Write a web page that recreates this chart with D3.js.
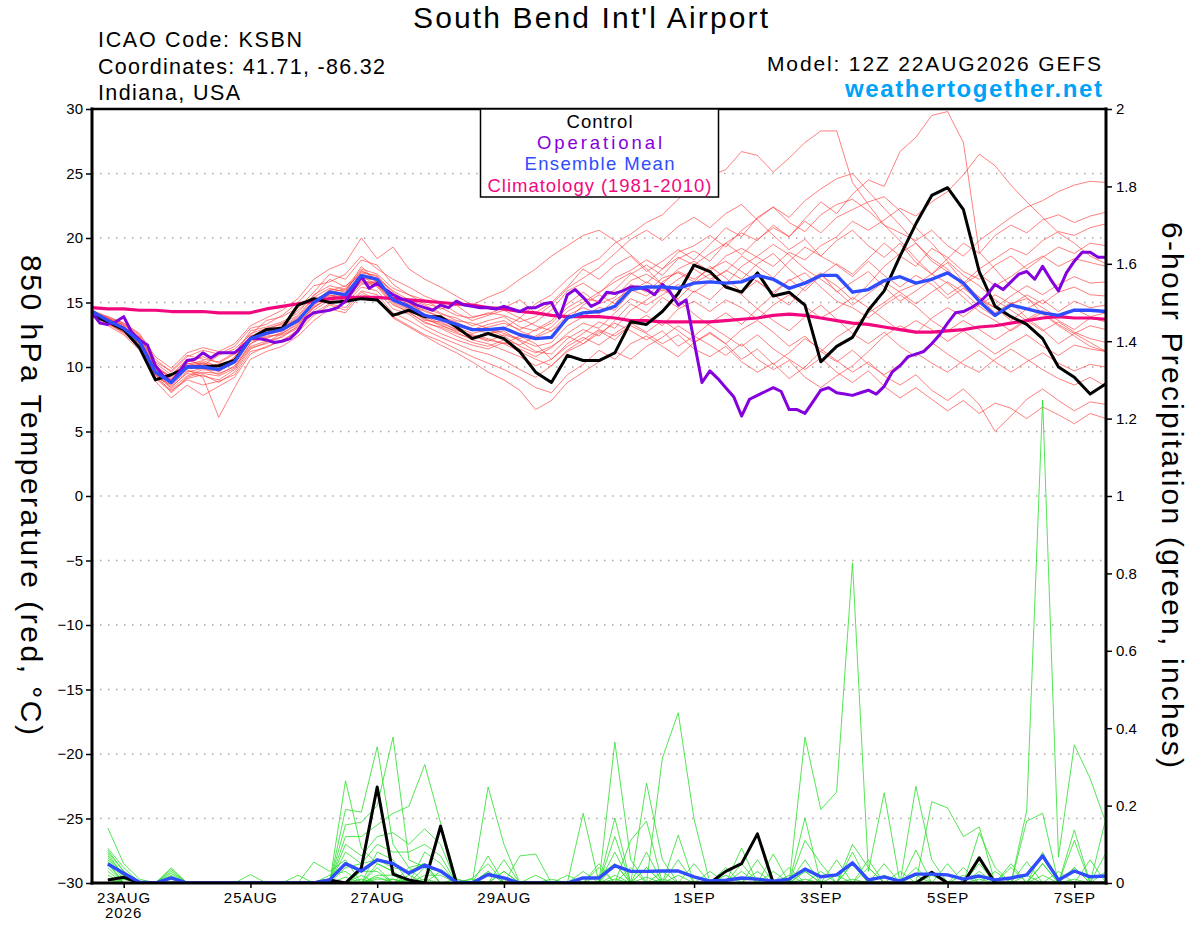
<!DOCTYPE html>
<html>
<head>
<meta charset="utf-8">
<script src="https://cdn.jsdelivr.net/npm/d3@7"></script>
<style>
  body { margin: 0; background: #fff; }
  svg { display: block; font-family: "Liberation Sans", Arial, Helvetica, sans-serif; }
</style>
</head>
<body>
<svg id="chart" width="1200" height="927"></svg>
<script>
(function () {
    'use strict';

    // run start (12Z 22AUG2026) and time steps
    const runStartUtc = Date.UTC(2026, 7, 22, 12);
    const stepHours = 6;      // ensemble, control, mean, climatology, precip
    const opStepHours = 3;    // operational run is 3-hourly

    const tickDays = [[2026, 7, 23], [2026, 7, 25], [2026, 7, 27], [2026, 7, 29],
                      [2026, 8, 1], [2026, 8, 3], [2026, 8, 5], [2026, 8, 7]];
    const tickLabels = ['23AUG', '25AUG', '27AUG', '29AUG', '1SEP', '3SEP', '5SEP', '7SEP'];
    const tempTicks = [-30, -25, -20, -15, -10, -5, 0, 5, 10, 15, 20, 25, 30];
    const precipTicks = [0, 0.2, 0.4, 0.6, 0.8, 1, 1.2, 1.4, 1.6, 1.8, 2];

    // 850 hPa temperature, 6-hourly from 12Z 22AUG
    const controlTemp = [14.0, 13.5, 12.9, 11.5, 9.0, 9.4, 10.0, 10.0, 10.1, 10.5, 12.2, 12.9, 13.0,
        14.8, 15.3, 15.0, 15.1, 15.3, 15.2, 14.0, 14.4, 13.9, 13.9, 13.1, 12.2, 12.6,
        12.2, 11.2, 9.6, 8.8, 10.9, 10.5, 10.5, 11.1, 13.5, 13.3, 14.3, 15.7, 17.9,
        17.4, 16.2, 15.8, 17.3, 15.5, 15.8, 14.8, 10.4, 11.6, 12.3, 14.4, 15.9, 18.6,
        21.1, 23.3, 23.9, 22.2, 17.4, 14.7, 13.9, 13.3, 12.2, 10.0, 9.2, 7.9, 8.7];

    const meanTemp = [14.3, 13.6, 13.0, 12.0, 9.6, 8.8, 10.0, 10.0, 9.8, 10.4, 12.2, 12.6, 12.9,
        13.6, 15.0, 15.8, 15.6, 17.1, 16.8, 15.2, 14.7, 14.0, 13.7, 13.3, 12.9, 12.9,
        13.0, 12.5, 12.2, 12.3, 13.8, 14.2, 14.3, 14.7, 16.0, 16.2, 16.2, 16.1, 16.5,
        16.6, 16.5, 16.6, 17.1, 16.8, 16.1, 16.5, 17.1, 17.1, 15.8, 16.0, 16.7, 17.0,
        16.5, 16.8, 17.3, 16.5, 15.1, 14.0, 14.8, 14.5, 14.2, 14.0, 14.4, 14.4, 14.3];

    const climoTemp = [14.6, 14.5, 14.5, 14.4, 14.4, 14.3, 14.3, 14.3, 14.2, 14.2, 14.2, 14.5, 14.7,
        14.9, 15.1, 15.3, 15.4, 15.4, 15.4, 15.3, 15.2, 15.1, 15.0, 14.9, 14.8, 14.6,
        14.5, 14.3, 14.2, 14.0, 13.9, 13.9, 13.9, 13.8, 13.6, 13.6, 13.5, 13.5, 13.5,
        13.5, 13.6, 13.7, 13.8, 14.0, 14.1, 14.0, 13.8, 13.6, 13.4, 13.3, 13.1, 12.9,
        12.7, 12.7, 12.8, 12.9, 13.1, 13.2, 13.4, 13.6, 13.8, 13.9, 13.8, 13.8, 13.7];

    // operational, 3-hourly
    const operationalTemp = [14.2, 13.4, 13.3, 13.5, 13.9, 12.7, 12.1, 11.7, 10.1, 9.3, 8.8, 9.6, 10.5,
        10.6, 11.1, 10.7, 11.1, 11.1, 11.1, 11.6, 12.2, 12.2, 12.1, 11.9, 12.0, 12.2,
        12.8, 13.8, 14.2, 14.3, 14.4, 14.6, 15.1, 16.0, 17.0, 16.1, 16.5, 16.0, 15.6,
        15.3, 15.1, 14.8, 14.6, 14.4, 14.8, 14.6, 15.1, 14.8, 14.7, 14.6, 14.6, 14.5,
        14.7, 14.5, 14.3, 14.6, 14.6, 14.9, 15.0, 13.8, 15.6, 16.0, 15.4, 14.7, 15.0,
        15.8, 15.7, 15.9, 16.2, 16.2, 16.0, 15.6, 16.4, 15.8, 14.8, 15.2, 12.0, 8.8,
        9.7, 9.1, 8.4, 7.7, 6.2, 7.5, 7.8, 8.1, 8.4, 8.1, 6.7, 6.7, 6.4,
        7.3, 8.2, 8.4, 8.0, 7.9, 7.8, 8.0, 8.2, 7.9, 8.5, 9.6, 10.1, 10.8,
        11.0, 11.2, 11.8, 12.5, 13.4, 14.2, 14.3, 14.6, 15.0, 15.6, 16.4, 16.0, 16.6,
        17.2, 17.4, 16.8, 17.8, 16.8, 15.9, 17.3, 18.2, 18.9, 18.9, 18.5, 18.5];

    // 20 GEFS perturbation members, 6-hourly
    const memberTemps = [
        [14.2, 13.8, 13.2, 12.1, 10.1, 9.2, 10.4, 10.8, 10.3, 11.0, 12.8, 13.1, 13.5,
         14.2, 15.6, 16.3, 16.0, 17.4, 17.0, 15.8, 15.0, 14.6, 14.1, 13.8, 13.2, 13.6,
         13.9, 13.1, 12.8, 13.4, 14.6, 15.3, 15.1, 16.0, 17.2, 17.9, 17.1, 18.4, 19.0,
         18.2, 19.6, 20.4, 19.8, 21.0, 20.1, 21.5, 22.8, 21.9, 23.4, 24.5, 24.0, 26.7,
         27.8, 29.5, 29.8, 27.4, 18.9, 17.6, 16.2, 15.4, 14.1, 13.2, 12.4, 11.6, 11.2],
        [14.4, 13.5, 12.8, 11.6, 9.4, 8.4, 9.6, 9.9, 9.4, 10.1, 11.8, 12.4, 12.5,
         13.1, 14.6, 15.4, 15.6, 16.8, 16.2, 14.8, 14.3, 13.4, 13.1, 12.6, 12.2, 12.6,
         13.0, 13.8, 14.9, 15.6, 16.8, 17.8, 18.4, 19.6, 20.3, 21.2, 21.8, 23.0, 24.1,
         24.8, 25.3, 26.7, 26.4, 25.1, 26.2, 27.4, 28.3, 28.3, 24.3, 22.6, 21.0, 19.8,
         18.4, 17.2, 18.1, 16.6, 15.4, 14.2, 15.0, 13.8, 12.9, 11.8, 12.6, 11.9, 11.2],
        [14.1, 13.7, 13.1, 12.3, 10.3, 9.4, 10.6, 10.1, 10.9, 11.4, 12.5, 13.6, 13.9,
         14.6, 15.8, 17.2, 16.8, 18.3, 17.9, 16.4, 15.6, 15.2, 14.5, 14.8, 13.9, 14.1,
         14.6, 15.2, 14.2, 15.0, 16.2, 17.6, 16.8, 17.9, 18.6, 17.4, 18.2, 19.1, 18.3,
         19.5, 20.8, 20.1, 21.6, 22.4, 21.2, 20.5, 21.8, 22.6, 23.0, 22.1, 21.0, 20.4,
         19.8, 20.6, 19.4, 18.6, 19.8, 20.7, 21.6, 22.4, 22.9, 23.6, 24.1, 24.4, 24.3],
        [14.3, 13.4, 12.6, 11.5, 9.1, 8.1, 9.2, 9.6, 9.5, 10.0, 11.6, 12.0, 12.3,
         13.2, 14.8, 15.6, 15.1, 16.4, 16.6, 15.4, 14.5, 13.6, 13.5, 12.9, 12.4, 12.0,
         12.5, 12.1, 11.6, 11.9, 13.2, 13.9, 14.6, 14.4, 15.8, 16.6, 15.9, 16.8, 17.6,
         16.8, 17.4, 18.6, 17.8, 16.9, 18.2, 19.3, 18.6, 19.8, 20.6, 19.4, 18.5, 19.6,
         18.1, 17.2, 18.4, 19.6, 18.8, 20.2, 21.0, 20.4, 21.4, 21.8, 21.2, 21.7, 22.0],
        [14.0, 13.6, 13.0, 12.0, 9.8, 9.0, 10.2, 10.5, 10.0, 10.7, 12.4, 12.9, 13.4,
         14.0, 15.4, 16.1, 15.8, 17.8, 16.5, 15.2, 14.9, 14.3, 13.9, 13.5, 12.8, 13.1,
         13.4, 12.9, 13.5, 14.4, 15.9, 16.5, 15.7, 16.9, 17.5, 18.3, 17.6, 18.9, 19.4,
         20.2, 19.3, 20.6, 21.5, 22.4, 21.6, 22.9, 23.8, 24.6, 25.0, 23.6, 22.3, 21.0,
         19.6, 18.2, 17.4, 16.5, 17.6, 18.4, 19.2, 18.7, 19.8, 20.5, 20.2, 20.8, 21.1],
        [14.2, 13.9, 13.4, 12.5, 10.6, 9.6, 10.8, 11.3, 11.0, 11.6, 13.0, 13.3, 14.0,
         15.0, 16.3, 16.6, 17.2, 18.6, 17.6, 16.8, 16.2, 15.5, 15.0, 14.2, 13.6, 14.0,
         14.4, 13.8, 13.2, 12.8, 13.6, 14.8, 15.6, 14.9, 16.4, 15.8, 16.9, 17.3, 16.6,
         17.8, 16.9, 15.8, 16.7, 15.6, 14.8, 16.2, 17.1, 18.0, 17.2, 18.4, 19.6, 18.6,
         17.8, 19.2, 18.5, 17.4, 16.8, 17.9, 18.6, 17.6, 18.5, 19.3, 18.8, 19.6, 19.4],
        [14.4, 13.7, 13.3, 12.2, 9.9, 8.7, 9.9, 10.3, 9.9, 10.6, 12.1, 12.6, 13.1,
         13.8, 15.1, 15.9, 16.3, 17.1, 16.9, 15.9, 15.2, 14.8, 14.2, 13.6, 13.4, 13.0,
         12.6, 12.2, 12.9, 13.6, 14.9, 15.8, 14.9, 15.4, 16.7, 17.2, 16.4, 17.6, 18.2,
         17.4, 18.6, 19.2, 18.5, 17.8, 18.9, 18.3, 19.4, 20.1, 21.3, 20.6, 21.4, 22.3,
         21.7, 22.8, 23.6, 24.9, 26.5, 25.6, 24.1, 22.8, 21.6, 20.4, 19.6, 18.6, 18.0],
        [14.1, 13.3, 12.7, 11.8, 9.5, 8.5, 9.5, 9.3, 9.0, 9.8, 11.5, 11.8, 12.4,
         13.0, 14.4, 15.2, 14.9, 16.2, 15.9, 14.5, 14.1, 13.2, 12.6, 12.1, 11.7, 11.4,
         11.9, 11.4, 10.8, 11.5, 12.6, 13.4, 13.0, 14.2, 15.3, 14.8, 15.6, 16.4, 15.8,
         16.6, 17.5, 16.8, 18.0, 18.8, 17.6, 16.5, 17.3, 15.8, 16.6, 17.4, 16.2, 15.1,
         15.9, 16.8, 15.6, 16.4, 17.2, 16.3, 17.0, 17.9, 18.6, 17.8, 18.4, 18.1, 17.8],
        [14.3, 13.8, 13.3, 12.4, 10.4, 9.7, 10.9, 10.6, 10.4, 11.1, 12.6, 13.0, 13.3,
         14.4, 15.5, 16.8, 16.2, 17.6, 17.2, 16.1, 15.6, 14.9, 14.6, 14.0, 13.8, 14.2,
         14.0, 13.5, 13.9, 14.8, 16.1, 16.9, 17.7, 18.8, 19.9, 20.6, 19.8, 20.9, 21.6,
         20.8, 21.9, 22.6, 21.4, 20.2, 19.1, 19.9, 18.6, 17.9, 17.0, 18.2, 17.1, 16.2,
         17.1, 16.4, 15.3, 16.1, 15.2, 14.6, 15.5, 16.3, 15.6, 16.4, 17.0, 16.5, 16.6],
        [14.0, 13.5, 12.9, 11.9, 9.6, 8.3, 9.3, 9.8, 9.7, 10.3, 12.0, 12.2, 12.7,
         13.6, 15.2, 15.6, 15.3, 17.0, 16.4, 15.0, 14.4, 13.8, 13.2, 12.8, 12.5, 12.2,
         11.8, 12.4, 11.8, 10.6, 11.8, 12.6, 13.5, 13.0, 14.4, 15.2, 16.0, 15.3, 16.5,
         17.2, 16.4, 17.8, 18.6, 19.5, 18.7, 17.6, 16.8, 15.9, 14.8, 15.7, 16.6, 15.8,
         14.9, 15.8, 16.6, 15.8, 14.7, 13.9, 14.8, 15.6, 14.9, 15.8, 16.2, 15.6, 15.5],
        [14.2, 13.4, 12.8, 11.7, 9.3, 8.6, 9.7, 9.5, 9.3, 9.9, 11.8, 12.5, 12.8,
         13.5, 14.9, 15.9, 15.5, 16.6, 16.6, 15.6, 14.8, 14.4, 13.9, 13.4, 13.0, 12.6,
         12.8, 12.0, 11.2, 11.0, 12.2, 12.9, 12.4, 13.6, 14.9, 14.2, 15.4, 14.6, 15.9,
         15.2, 16.4, 15.6, 14.5, 15.6, 16.8, 15.9, 17.1, 16.3, 15.2, 16.4, 17.8, 18.8,
         19.6, 18.4, 17.6, 16.2, 15.4, 14.6, 13.6, 14.5, 15.2, 14.3, 15.1, 14.6, 14.8],
        [14.3, 13.6, 13.1, 12.2, 10.0, 9.1, 10.1, 10.4, 9.6, 10.5, 12.3, 12.7, 13.2,
         13.9, 15.3, 15.7, 16.1, 17.3, 17.1, 15.6, 15.0, 14.1, 13.6, 13.1, 12.6, 12.9,
         12.4, 11.6, 11.1, 11.6, 12.4, 11.8, 12.6, 13.4, 12.8, 12.1, 12.8, 11.6, 12.4,
         11.7, 10.9, 11.8, 10.6, 9.8, 10.5, 9.2, 8.4, 9.3, 10.1, 11.2, 12.4, 13.2,
         12.6, 13.8, 14.6, 13.9, 14.8, 15.6, 14.9, 15.3, 14.6, 13.8, 14.5, 13.9, 14.2],
        [14.1, 13.5, 13.0, 12.0, 9.7, 8.9, 10.3, 10.0, 10.2, 10.6, 12.2, 12.8, 13.1,
         13.7, 15.0, 16.0, 15.9, 17.5, 16.8, 15.4, 15.1, 14.0, 13.7, 13.3, 12.9, 13.3,
         13.6, 12.8, 12.3, 12.8, 14.0, 14.6, 14.1, 15.2, 16.0, 15.5, 16.6, 17.4, 16.8,
         17.6, 18.2, 17.4, 16.6, 15.8, 16.7, 17.3, 16.2, 15.1, 14.6, 13.8, 14.8, 15.6,
         14.7, 13.6, 12.8, 13.6, 12.9, 12.1, 12.9, 13.7, 14.4, 13.6, 12.9, 13.8, 13.5],
        [14.4, 13.8, 13.2, 12.1, 9.9, 9.3, 10.5, 10.2, 9.8, 10.8, 12.4, 12.6, 13.0,
         13.6, 15.1, 15.5, 15.7, 16.9, 16.7, 15.3, 14.6, 13.9, 13.4, 12.9, 12.4, 12.1,
         11.8, 11.2, 10.6, 10.1, 11.3, 12.1, 12.9, 12.4, 13.2, 12.6, 11.8, 12.5, 11.4,
         10.8, 11.6, 10.4, 9.6, 10.3, 9.1, 10.0, 11.2, 12.3, 13.1, 14.2, 15.0, 15.9,
         16.4, 17.2, 16.5, 15.4, 14.3, 13.6, 12.8, 13.6, 14.2, 13.3, 12.6, 13.2, 12.9],
        [14.2, 13.6, 12.9, 11.9, 9.5, 8.0, 9.1, 9.4, 8.8, 9.6, 11.4, 11.9, 12.6,
         13.3, 14.7, 15.3, 15.4, 16.5, 16.3, 14.9, 14.2, 13.5, 13.0, 12.4, 11.9, 11.6,
         12.1, 11.7, 12.4, 13.1, 14.3, 15.0, 15.8, 16.6, 17.3, 16.5, 17.6, 18.5, 17.9,
         18.8, 19.6, 18.7, 19.9, 20.8, 20.1, 21.3, 20.4, 21.6, 22.2, 22.8, 23.2, 22.1,
         20.8, 19.6, 18.2, 17.1, 16.3, 15.2, 14.4, 13.6, 12.8, 13.5, 12.7, 12.2, 11.9],
        [14.0, 13.2, 12.5, 11.3, 8.9, 7.6, 8.6, 7.8, 8.5, 9.2, 11.0, 11.6, 12.0,
         12.9, 14.2, 14.9, 14.6, 15.9, 15.6, 14.2, 13.6, 12.9, 12.3, 11.8, 11.3, 11.0,
         10.5, 9.8, 9.2, 10.1, 11.2, 11.8, 12.8, 12.1, 13.3, 14.0, 13.2, 14.5, 15.1,
         14.3, 15.2, 14.6, 13.7, 14.8, 15.6, 14.7, 13.8, 14.5, 15.4, 14.6, 13.7, 12.8,
         13.6, 12.9, 12.0, 12.8, 11.9, 11.0, 11.8, 12.5, 11.6, 10.9, 11.7, 11.4, 11.2],
        [14.3, 13.7, 13.1, 12.3, 10.2, 9.0, 9.8, 9.2, 6.1, 8.4, 10.6, 11.2, 11.6,
         12.4, 13.6, 14.5, 14.2, 15.6, 15.3, 13.9, 13.2, 12.5, 12.0, 11.4, 10.8, 10.3,
         9.8, 9.2, 8.4, 8.0, 9.4, 10.2, 11.3, 10.6, 11.8, 12.4, 11.6, 10.8, 11.9,
         12.6, 11.8, 12.9, 13.6, 12.7, 11.6, 12.4, 11.2, 10.4, 11.3, 10.2, 9.4, 10.2,
         11.1, 10.3, 9.6, 10.5, 11.3, 10.4, 9.6, 10.4, 11.1, 10.3, 9.7, 10.2, 10.0],
        [14.1, 13.4, 12.7, 11.6, 9.2, 8.2, 9.0, 8.6, 8.9, 9.4, 11.2, 11.5, 12.1,
         12.7, 14.0, 14.8, 14.4, 15.8, 15.2, 13.8, 13.1, 12.4, 11.7, 11.1, 10.4, 9.6,
         9.0, 8.2, 6.7, 7.4, 8.8, 9.6, 10.4, 11.2, 10.6, 11.6, 12.3, 13.2, 12.4,
         13.4, 14.2, 13.3, 14.5, 13.6, 12.8, 13.9, 14.8, 13.7, 12.6, 11.8, 12.7, 11.6,
         10.8, 11.9, 11.0, 10.2, 9.6, 10.6, 11.4, 10.6, 9.8, 9.1, 8.6, 9.2, 8.5],
        [14.2, 13.5, 12.9, 11.8, 9.4, 8.8, 9.9, 10.3, 10.1, 10.4, 12.1, 12.3, 12.6,
         13.4, 14.6, 15.4, 15.2, 16.7, 16.4, 15.1, 14.5, 13.7, 13.3, 12.7, 12.1, 11.8,
         11.3, 10.8, 10.1, 10.6, 11.6, 12.3, 11.7, 12.6, 13.4, 12.7, 13.6, 12.8, 11.9,
         12.7, 11.8, 10.6, 11.4, 10.2, 11.1, 12.2, 11.4, 10.5, 9.6, 10.4, 9.3, 8.6,
         9.4, 8.2, 7.4, 8.3, 7.1, 5.0, 6.2, 7.5, 8.3, 7.4, 6.6, 7.3, 7.1],
        [14.4, 13.9, 13.4, 12.6, 10.8, 9.9, 11.1, 11.5, 11.2, 11.8, 13.2, 13.8, 14.4,
         15.3, 16.8, 17.6, 18.1, 20.0, 18.4, 19.3, 17.6, 16.8, 16.2, 15.5, 14.8, 15.4,
         15.9, 16.8, 17.6, 18.6, 19.4, 20.2, 20.6, 19.8, 18.7, 17.6, 16.4, 15.2, 14.1,
         13.2, 12.4, 11.6, 12.5, 11.4, 10.6, 9.8, 10.7, 9.6, 8.8, 9.7, 8.5, 7.6,
         8.4, 7.5, 6.6, 7.4, 6.4, 7.2, 6.8, 6.0, 6.9, 6.3, 5.6, 6.4, 6.0]
    ];

    // 6-hour precipitation (inches), 18Z 22AUG .. 12Z 7SEP
    const controlPrecip = [0.008, 0.015, 0, 0, 0, 0, 0, 0, 0, 0, 0, 0, 0, 0, 0.008, 0,
        0.039, 0.248, 0.023, 0.008, 0, 0.147, 0, 0, 0, 0, 0, 0, 0, 0, 0, 0,
        0, 0, 0, 0, 0, 0, 0, 0.03, 0.05, 0.127, 0, 0, 0, 0, 0, 0,
        0, 0, 0, 0, 0.028, 0, 0, 0.065, 0, 0, 0, 0, 0, 0, 0, 0];

    const meanPrecip = [0.049, 0.025, 0.002, 0, 0.013, 0, 0, 0, 0, 0, 0, 0, 0, 0, 0.008, 0.05,
        0.031, 0.06, 0.05, 0.025, 0.046, 0.031, 0.002, 0, 0.022, 0.013, 0, 0, 0, 0, 0.013, 0.013,
        0.045, 0.03, 0.03, 0.031, 0.031, 0.016, 0.005, 0.007, 0.013, 0.01, 0.005, 0.01, 0.036, 0.016, 0.021, 0.052,
        0.008, 0.016, 0.005, 0.023, 0.023, 0.021, 0.01, 0.018, 0.008, 0.013, 0.021, 0.07, 0.008, 0.031, 0.016, 0.018];

    const memberPrecips = [
        [0.142, 0.05, 0.01, 0, 0.039, 0, 0, 0, 0, 0, 0, 0, 0, 0, 0, 0.264,
         0.09, 0.05, 0.03, 0, 0, 0, 0, 0, 0.03, 0, 0, 0, 0, 0, 0, 0,
         0.05, 0, 0, 0, 0, 0, 0, 0, 0, 0, 0, 0, 0.03, 0, 0, 0.05,
         0, 0, 0, 0, 0, 0, 0, 0, 0, 0, 0, 0.05, 0, 0.04, 0, 0],
        [0.09, 0.04, 0, 0, 0.035, 0, 0, 0, 0, 0, 0, 0, 0, 0, 0, 0.19,
         0.183, 0.352, 0.1, 0.04, 0.05, 0, 0, 0, 0, 0.03, 0, 0, 0, 0, 0, 0,
         0, 0, 0.04, 0, 0.06, 0, 0, 0, 0.09, 0, 0, 0, 0, 0, 0, 0,
         0, 0, 0, 0.25, 0.06, 0, 0, 0, 0, 0, 0.055, 0, 0, 0, 0, 0.078],
        [0.085, 0.03, 0, 0, 0.03, 0, 0, 0, 0, 0, 0, 0, 0, 0, 0, 0.15,
         0.157, 0.2, 0.377, 0.06, 0.04, 0.03, 0, 0, 0.248, 0.1, 0, 0, 0, 0, 0, 0,
         0.364, 0.06, 0, 0, 0, 0, 0, 0, 0, 0, 0, 0, 0.06, 0, 0, 0.1,
         0.04, 0, 0, 0, 0, 0, 0, 0.05, 0, 0, 0, 0.08, 0, 0, 0, 0],
        [0.08, 0.03, 0, 0, 0.025, 0, 0, 0, 0, 0, 0, 0, 0, 0, 0, 0.12,
         0.12, 0.15, 0.18, 0.198, 0.306, 0.155, 0.01, 0, 0, 0, 0, 0, 0, 0, 0.18, 0,
         0, 0, 0.258, 0.06, 0, 0, 0, 0, 0, 0, 0, 0, 0.377, 0.19, 0.235, 0.827,
         0.03, 0.233, 0, 0, 0, 0, 0, 0, 0, 0, 0, 0, 0, 0.11, 0, 0],
        [0.075, 0.02, 0, 0, 0, 0, 0, 0, 0, 0, 0, 0, 0, 0, 0, 0.1,
         0.07, 0.12, 0.13, 0.1, 0.14, 0.1, 0, 0, 0.07, 0, 0.07, 0.075, 0, 0, 0, 0,
         0.168, 0, 0, 0.323, 0.44, 0.165, 0, 0, 0, 0, 0, 0, 0, 0, 0, 0,
         0, 0, 0, 0.085, 0, 0, 0, 0, 0, 0, 0.188, 1.248, 0.067, 0.357, 0.27, 0.155],
        [0.07, 0.02, 0, 0, 0.02, 0, 0, 0, 0, 0, 0, 0, 0, 0, 0, 0.08,
         0.05, 0.1, 0.08, 0.08, 0.1, 0.07, 0, 0, 0, 0.06, 0, 0, 0, 0, 0, 0.05,
         0, 0.11, 0.16, 0, 0, 0, 0, 0, 0.05, 0, 0, 0, 0, 0, 0, 0,
         0, 0, 0, 0, 0.21, 0.194, 0.12, 0.145, 0, 0, 0, 0, 0, 0, 0, 0.168],
        [0.065, 0.015, 0, 0, 0.015, 0, 0, 0, 0, 0, 0, 0, 0, 0.054, 0.03, 0.06,
         0, 0.08, 0.06, 0, 0.08, 0.05, 0, 0.012, 0.05, 0, 0, 0, 0, 0, 0, 0,
         0.12, 0, 0, 0, 0.124, 0, 0, 0, 0, 0, 0.075, 0, 0.168, 0, 0, 0,
         0, 0.05, 0, 0, 0, 0, 0, 0.13, 0.04, 0, 0.16, 0.18, 0, 0, 0, 0],
        [0.06, 0.01, 0, 0, 0, 0, 0, 0, 0, 0.022, 0, 0, 0, 0, 0, 0.04,
         0.05, 0.06, 0.04, 0.03, 0.05, 0, 0, 0, 0, 0, 0, 0.02, 0, 0, 0, 0,
         0.08, 0, 0.08, 0, 0, 0, 0, 0, 0, 0.06, 0, 0, 0.11, 0.05, 0, 0.08,
         0, 0, 0, 0.04, 0, 0, 0, 0, 0, 0.05, 0, 0, 0, 0.137, 0, 0],
        [0.055, 0, 0, 0, 0, 0, 0, 0, 0, 0, 0, 0, 0.02, 0, 0.02, 0.03,
         0, 0.05, 0.03, 0, 0, 0.03, 0, 0, 0, 0, 0, 0, 0, 0.02, 0, 0.04,
         0, 0.04, 0, 0, 0, 0.05, 0, 0.04, 0, 0, 0, 0.04, 0, 0, 0.06, 0,
         0, 0, 0, 0, 0.03, 0, 0.04, 0, 0, 0, 0, 0.05, 0, 0, 0, 0],
        [0.05, 0, 0, 0, 0, 0, 0, 0, 0, 0, 0, 0, 0, 0, 0, 0,
         0, 0.04, 0, 0, 0.04, 0, 0.01, 0, 0, 0, 0, 0, 0.01, 0, 0.03, 0,
         0, 0, 0, 0.03, 0, 0, 0.03, 0, 0, 0, 0.03, 0, 0, 0.03, 0, 0,
         0.06, 0, 0, 0, 0, 0.05, 0, 0, 0, 0.04, 0, 0, 0.03, 0, 0.06, 0],
        [0.04, 0, 0, 0, 0, 0, 0, 0, 0, 0, 0, 0, 0, 0, 0, 0,
         0.03, 0.03, 0, 0.04, 0, 0, 0, 0.01, 0, 0, 0, 0, 0, 0, 0, 0.02,
         0.05, 0, 0, 0, 0, 0, 0, 0.02, 0, 0.03, 0, 0.02, 0, 0, 0, 0.05,
         0, 0, 0.03, 0, 0, 0, 0, 0, 0.03, 0, 0, 0, 0, 0.04, 0, 0],
        [0.03, 0, 0, 0, 0, 0, 0, 0, 0, 0, 0, 0, 0, 0, 0, 0,
         0, 0.02, 0.02, 0, 0, 0, 0, 0, 0, 0.03, 0, 0, 0, 0, 0, 0,
         0, 0, 0.04, 0, 0, 0, 0, 0, 0.03, 0, 0, 0, 0, 0, 0, 0,
         0.04, 0, 0, 0.02, 0, 0, 0, 0.03, 0, 0, 0, 0, 0, 0, 0, 0.03],
        [0.02, 0, 0, 0, 0.01, 0, 0, 0, 0, 0, 0, 0, 0, 0, 0, 0,
         0.02, 0, 0, 0.02, 0, 0, 0, 0, 0.03, 0, 0, 0, 0, 0, 0, 0,
         0, 0, 0, 0, 0.02, 0, 0, 0, 0, 0, 0, 0, 0.03, 0, 0, 0,
         0, 0, 0, 0, 0.02, 0, 0, 0, 0, 0, 0.02, 0, 0, 0, 0, 0],
        [0.01, 0, 0, 0, 0, 0, 0, 0, 0, 0, 0, 0, 0, 0, 0, 0,
         0, 0.015, 0, 0, 0.02, 0.02, 0, 0, 0, 0, 0, 0, 0, 0, 0, 0,
         0.02, 0, 0, 0, 0, 0, 0, 0, 0, 0, 0, 0, 0, 0, 0.02, 0,
         0, 0, 0, 0, 0, 0, 0.02, 0, 0, 0, 0, 0.02, 0, 0, 0, 0],
        [0, 0, 0, 0, 0, 0, 0, 0, 0, 0, 0, 0, 0, 0, 0, 0,
         0, 0.01, 0.01, 0, 0, 0, 0, 0, 0, 0, 0, 0, 0, 0, 0, 0,
         0, 0, 0, 0.01, 0, 0, 0, 0, 0, 0, 0, 0, 0, 0, 0, 0,
         0, 0.02, 0, 0, 0, 0, 0, 0, 0, 0, 0, 0, 0, 0, 0, 0],
        [0, 0.01, 0, 0, 0, 0, 0, 0, 0, 0, 0, 0, 0, 0, 0, 0.015,
         0, 0, 0, 0, 0, 0, 0, 0, 0, 0, 0, 0, 0, 0, 0, 0,
         0, 0, 0, 0, 0, 0, 0, 0, 0, 0, 0, 0, 0.01, 0, 0, 0,
         0, 0, 0, 0, 0, 0, 0, 0, 0, 0, 0, 0, 0, 0, 0, 0],
        [0, 0, 0, 0, 0, 0, 0, 0, 0, 0, 0, 0, 0, 0, 0, 0,
         0, 0, 0, 0.01, 0, 0, 0, 0, 0, 0, 0, 0, 0, 0, 0, 0,
         0, 0, 0.015, 0, 0, 0, 0, 0, 0, 0, 0, 0, 0, 0, 0, 0,
         0, 0, 0, 0, 0, 0, 0, 0.01, 0, 0, 0, 0, 0, 0, 0, 0],
        [0, 0, 0, 0, 0, 0, 0, 0, 0, 0, 0, 0, 0, 0, 0, 0,
         0, 0, 0, 0, 0.01, 0, 0, 0, 0, 0, 0, 0, 0, 0, 0, 0,
         0, 0, 0, 0, 0, 0, 0, 0, 0, 0, 0, 0, 0, 0, 0, 0.01,
         0, 0, 0, 0, 0, 0, 0, 0, 0, 0, 0, 0, 0, 0, 0, 0],
        [0, 0, 0, 0, 0, 0, 0, 0, 0, 0, 0, 0, 0, 0, 0, 0,
         0.01, 0, 0, 0, 0, 0, 0, 0, 0, 0, 0, 0, 0, 0, 0, 0,
         0.01, 0, 0, 0, 0, 0, 0, 0, 0, 0, 0, 0, 0, 0, 0, 0,
         0, 0, 0, 0, 0, 0, 0, 0, 0, 0, 0, 0, 0, 0, 0, 0],
        [0, 0, 0, 0, 0, 0, 0, 0, 0, 0, 0, 0, 0, 0, 0, 0,
         0, 0, 0.01, 0, 0, 0, 0, 0, 0, 0, 0, 0, 0, 0, 0, 0,
         0, 0, 0, 0, 0, 0, 0, 0, 0, 0, 0, 0, 0, 0, 0, 0,
         0, 0, 0, 0, 0, 0, 0, 0, 0, 0, 0, 0, 0, 0.01, 0, 0]
    ];

    const colors = {
        member: '#ff3a3a',
        precip: '#2ddf2d',
        control: '#000000',
        operational: '#8400dc',
        mean: '#2f4cff',
        climo: '#f2087e',
        brand: '#00a2f8',
        grid: '#a8a8a8'
    };

    const plot = { left: 92, right: 1106, top: 109, bottom: 883 };
    const hourMs = 3600 * 1000;

    const svg = d3.select('#chart');

    const x = d3.scaleUtc()
        .domain([new Date(runStartUtc), new Date(runStartUtc + 64 * stepHours * hourMs)])
        .range([plot.left, plot.right]);
    const yT = d3.scaleLinear().domain([-30, 30]).range([plot.bottom, plot.top]);
    const yP = d3.scaleLinear().domain([0, 2]).range([plot.bottom, plot.top]);

    // time of a series point
    const tempTime = i => new Date(runStartUtc + i * stepHours * hourMs);
    const opTime = i => new Date(runStartUtc + i * opStepHours * hourMs);
    const precipTime = i => new Date(runStartUtc + (i + 1) * stepHours * hourMs);

    const tempLine = d3.line().x((d, i) => x(tempTime(i))).y(d => yT(d));
    const opLine = d3.line().x((d, i) => x(opTime(i))).y(d => yT(d));
    const precipLine = d3.line().x((d, i) => x(precipTime(i))).y(d => yP(d));

    svg.append('defs').append('clipPath').attr('id', 'plot-clip')
        .append('rect')
        .attr('x', plot.left).attr('y', plot.top)
        .attr('width', plot.right - plot.left).attr('height', plot.bottom - plot.top);

    // dotted grid on temperature ticks
    svg.append('g')
        .selectAll('line')
        .data(tempTicks.filter(d => d > -30 && d < 30))
        .join('line')
        .attr('x1', plot.left).attr('x2', plot.right)
        .attr('y1', d => yT(d)).attr('y2', d => yT(d))
        .attr('stroke', colors.grid)
        .attr('stroke-width', 1.3)
        .attr('stroke-dasharray', '1.5,6.5');

    const lines = svg.append('g').attr('clip-path', 'url(#plot-clip)').attr('fill', 'none')
        .attr('stroke-linejoin', 'round');

    lines.append('g')
        .attr('stroke', colors.member)
        .attr('stroke-opacity', 0.72)
        .attr('stroke-width', 0.9)
        .selectAll('path')
        .data(memberTemps)
        .join('path')
        .attr('d', tempLine);

    lines.append('g')
        .attr('stroke', colors.precip)
        .attr('stroke-opacity', 0.9)
        .attr('stroke-width', 0.9)
        .selectAll('path')
        .data(memberPrecips)
        .join('path')
        .attr('d', precipLine);

    lines.append('path').attr('d', tempLine(climoTemp))
        .attr('stroke', colors.climo).attr('stroke-width', 3.2);
    lines.append('path').attr('d', tempLine(controlTemp))
        .attr('stroke', colors.control).attr('stroke-width', 3);
    lines.append('path').attr('d', precipLine(controlPrecip))
        .attr('stroke', colors.control).attr('stroke-width', 3);
    lines.append('path').attr('d', opLine(operationalTemp))
        .attr('stroke', colors.operational).attr('stroke-width', 3);
    lines.append('path').attr('d', tempLine(meanTemp))
        .attr('stroke', colors.mean).attr('stroke-width', 3.4);
    lines.append('path').attr('d', precipLine(meanPrecip))
        .attr('stroke', colors.mean).attr('stroke-width', 3.4);

    // axes
    const axisFont = 15;

    const leftAxis = svg.append('g')
        .attr('transform', `translate(${plot.left},0)`)
        .call(d3.axisLeft(yT).tickValues(tempTicks).tickSize(6).tickPadding(3).tickFormat(d3.format('d')));
    leftAxis.select('.domain').remove();
    leftAxis.selectAll('line').attr('stroke-width', 1.5);
    leftAxis.selectAll('text').attr('font-size', axisFont).attr('fill', '#000').attr('font-family', null);

    const rightAxis = svg.append('g')
        .attr('transform', `translate(${plot.right},0)`)
        .call(d3.axisRight(yP).tickValues(precipTicks).tickSize(6).tickPadding(4)
            .tickFormat(d => String(+d.toFixed(1))));
    rightAxis.select('.domain').remove();
    rightAxis.selectAll('line').attr('stroke-width', 1.5);
    rightAxis.selectAll('text').attr('font-size', axisFont).attr('fill', '#000').attr('font-family', null);

    const tickDates = tickDays.map(d => new Date(Date.UTC(d[0], d[1], d[2])));
    const bottomAxis = svg.append('g')
        .attr('transform', `translate(0,${plot.bottom})`)
        .call(d3.axisBottom(x).tickValues(tickDates).tickSize(5).tickPadding(4)
            .tickFormat((d, i) => tickLabels[i]));
    bottomAxis.select('.domain').remove();
    bottomAxis.selectAll('line').attr('stroke-width', 1.5);
    bottomAxis.selectAll('text').attr('font-size', axisFont).attr('fill', '#000')
        .attr('font-family', null).attr('letter-spacing', 1);
    bottomAxis.append('text')
        .attr('x', x(tickDates[0])).attr('y', 35)
        .attr('text-anchor', 'middle').attr('font-size', axisFont).attr('fill', '#000')
        .attr('letter-spacing', 1)
        .text(String(tickDays[0][0]));

    // frame
    const frame = svg.append('g').attr('stroke', '#000').attr('stroke-linecap', 'square');
    frame.append('line').attr('x1', plot.left).attr('x2', plot.right).attr('y1', plot.top).attr('y2', plot.top).attr('stroke-width', 2.5);
    frame.append('line').attr('x1', plot.left).attr('x2', plot.right).attr('y1', plot.bottom).attr('y2', plot.bottom).attr('stroke-width', 3);
    frame.append('line').attr('x1', plot.left).attr('x2', plot.left).attr('y1', plot.top).attr('y2', plot.bottom).attr('stroke-width', 3);
    frame.append('line').attr('x1', plot.right).attr('x2', plot.right).attr('y1', plot.top).attr('y2', plot.bottom).attr('stroke-width', 3);

    // legend
    const legendItems = [
        { label: 'Control', color: colors.control, w: 66 },
        { label: 'Operational', color: colors.operational, w: 125 },
        { label: 'Ensemble Mean', color: colors.mean, w: 150 },
        { label: 'Climatology (1981-2010)', color: colors.climo, w: 224 }
    ];
    const legend = svg.append('g');
    legend.append('rect')
        .attr('x', 480.5).attr('y', plot.top).attr('width', 238).attr('height', 88)
        .attr('fill', '#fff').attr('stroke', '#000').attr('stroke-width', 1.5);
    legend.selectAll('text')
        .data(legendItems)
        .join('text')
        .attr('x', 599.5)
        .attr('y', (d, i) => 127.5 + i * 21.4)
        .attr('text-anchor', 'middle')
        .attr('font-size', 18.5)
        .attr('fill', d => d.color)
        .attr('textLength', d => d.w)
        .attr('lengthAdjust', 'spacing')
        .text(d => d.label);

    // header texts
    const header = [
        { text: "South Bend Int'l Airport", x: 590.5, y: 28, size: 30, w: 355, anchor: 'middle' },
        { text: 'ICAO Code: KSBN', x: 98, y: 47, size: 21.5, w: 204, anchor: 'start' },
        { text: 'Coordinates: 41.71, -86.32', x: 98, y: 74, size: 21.5, w: 287, anchor: 'start' },
        { text: 'Indiana, USA', x: 98, y: 100, size: 21.5, w: 142, anchor: 'start' },
        { text: 'Model: 12Z 22AUG2026 GEFS', x: 1101, y: 71, size: 21, w: 334, anchor: 'end' }
    ];
    svg.append('g').selectAll('text')
        .data(header)
        .join('text')
        .attr('x', d => d.x).attr('y', d => d.y)
        .attr('font-size', d => d.size)
        .attr('text-anchor', d => d.anchor)
        .attr('textLength', d => d.w)
        .attr('lengthAdjust', 'spacing')
        .attr('fill', '#000')
        .text(d => d.text);

    svg.append('text')
        .attr('x', 1102).attr('y', 97)
        .attr('text-anchor', 'end')
        .attr('font-size', 24).attr('font-weight', 'bold')
        .attr('fill', colors.brand)
        .attr('textLength', 257).attr('lengthAdjust', 'spacing')
        .text('weathertogether.net');

    // axis titles (read top to bottom)
    svg.append('text')
        .attr('transform', 'translate(21,495) rotate(90)')
        .attr('text-anchor', 'middle')
        .attr('font-size', 30)
        .attr('textLength', 480).attr('lengthAdjust', 'spacing')
        .text('850 hPa Temperature (red, \u00B0C)');

    svg.append('text')
        .attr('transform', 'translate(1162,495) rotate(90)')
        .attr('text-anchor', 'middle')
        .attr('font-size', 30)
        .attr('textLength', 546).attr('lengthAdjust', 'spacing')
        .text('6-hour Precipitation (green, inches)');
})();
</script>
</body>
</html>
